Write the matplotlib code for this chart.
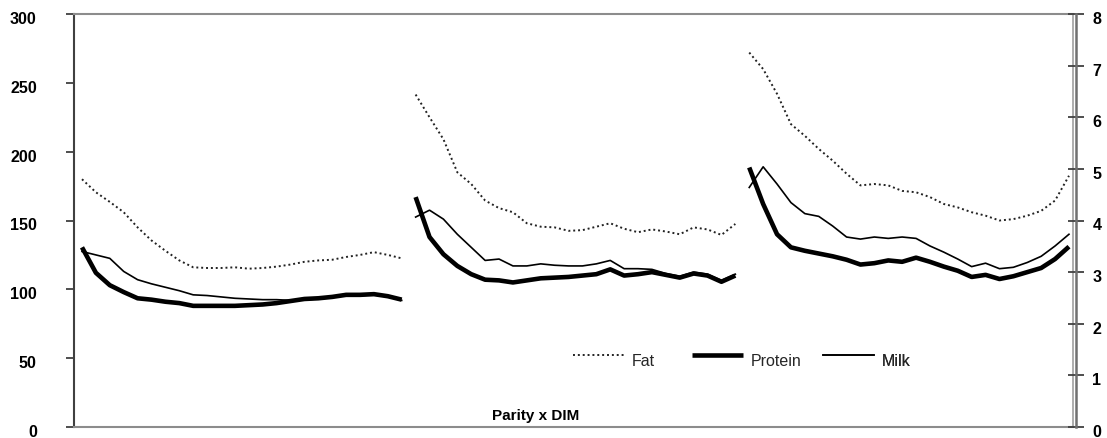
import numpy as np
import matplotlib
matplotlib.use("Agg")
import matplotlib.pyplot as plt
from matplotlib.lines import Line2D
from matplotlib.transforms import ScaledTranslation

plt.rcParams['font.family'] = ['Liberation Sans', 'DejaVu Sans']

# ---- data (left-axis units), 24 DIM classes per parity ----
n_dim = 24
fat_p1 = [180, 170.5, 163.5, 156, 145, 135.5, 128, 121, 116, 115.5, 115.5, 116,
          115, 115.5, 116.5, 118, 120, 121, 121.5, 123.5, 125, 127, 125, 122.5]
protein_p1 = [130.5, 112, 103, 98, 93.5, 92.5, 91, 90, 88, 88, 88, 88,
              88.5, 89, 90, 91.5, 93, 93.5, 94.5, 96, 96, 96.5, 95, 92.5]
milk_p1 = [127.5, 125, 122.5, 113, 107, 104, 101.5, 99, 96, 95.5, 94.5, 93.5,
           93, 92.5, 92.5, 92, 92.5, 93, 94, 95.5, 95.5, 96, 94.5, 92]

fat_p2 = [241.5, 225, 209, 185, 176.5, 164.5, 159, 156, 148, 145.5, 145, 142.5,
          143, 145.5, 148, 144, 141.5, 143.5, 142, 140, 145, 143.5, 139.5, 147.5]
protein_p2 = [167, 138, 125.5, 117, 111, 107, 106.5, 105, 106.5, 108, 108.5, 109,
              110, 111, 114.5, 110, 111, 112.5, 110.5, 108.5, 111.5, 110, 105.5, 110]
milk_p2 = [152.5, 157.5, 151, 140, 130.5, 121, 122, 117, 117, 118.5, 117.5, 117,
           117, 118.5, 121, 115, 115, 114.5, 111.5, 109.5, 112.5, 111, 106.5, 111]

fat_p3 = [272, 260, 242, 220, 211.5, 202, 193.5, 184, 175.5, 176.5, 175.5, 171.5,
          170.5, 167, 162, 159.5, 156, 153.5, 150, 151, 153.5, 157, 164.5, 182.5]
protein_p3 = [188.5, 162, 140, 130.5, 128, 126, 124, 121.5, 118, 119, 121, 120,
              123, 120, 116.5, 113.5, 109, 110.5, 107.5, 109.5, 112.5, 115.5, 122, 131]
milk_p3 = [174, 189, 176.5, 163, 155, 153, 146, 138, 136.5, 138, 137, 138,
           137, 131.5, 127, 122, 116.5, 119, 115, 116, 119.5, 124, 131.5, 140]

left_ticks = [0, 50, 100, 150, 200, 250, 300]
right_ticks = [0, 1, 2, 3, 4, 5, 6, 7, 8]
series_names = ["Fat", "Protein", "Milk"]

# ---- figure ----
W, H = 1107, 439
fig = plt.figure(figsize=(W / 100, H / 100), dpi=100)
ax = fig.add_axes([74 / W, 1 - 428 / H, (1073 - 74) / W, (428 - 15) / H])

fat_style = dict(color='#222222', lw=1.4, linestyle=(0, (1, 1.5)))
prot_style = dict(color='black', lw=3.3, solid_capstyle='butt', solid_joinstyle='round')
milk_style = dict(color='black', lw=1.2, solid_joinstyle='round')

parities = [(fat_p1, protein_p1, milk_p1), (fat_p2, protein_p2, milk_p2), (fat_p3, protein_p3, milk_p3)]
for k, (f, p, m) in enumerate(parities):
    x = np.arange(n_dim) + k * n_dim
    ax.plot(x, f, **fat_style, zorder=2)
    ax.plot(x, m, **milk_style, zorder=3)
    ax.plot(x, p, **prot_style, zorder=4)

ax.set_xlim(-0.5755, 71.29)
ax.set_ylim(0, 300)
ax.set_xticks([])
ax.set_yticks(left_ticks)
ax.set_yticklabels([str(t) for t in left_ticks])

for side in ['top', 'bottom']:
    ax.spines[side].set_color('#8c8c8c')
    ax.spines[side].set_linewidth(1.5)
ax.spines['left'].set_color('#404040')
ax.spines['left'].set_linewidth(1.5)
ax.spines['right'].set_color('#a0a0a0')
ax.spines['right'].set_linewidth(1.2)

ax.tick_params(axis='y', direction='out', length=5.8, width=1.3, color='#404040',
               pad=21, labelsize=11.5)
for lab in ax.get_yticklabels():
    lab.set_fontweight('bold')
    lab.set_transform(lab.get_transform() + ScaledTranslation(0, -3 / 100, fig.dpi_scale_trans))

ax2 = ax.twinx()
ax2.set_ylim(0, 8)
ax2.set_yticks(right_ticks)
ax2.set_yticklabels([str(t) for t in right_ticks])
for side in ['top', 'bottom', 'left']:
    ax2.spines[side].set_visible(False)
ax2.spines['right'].set_position(('outward', 2.5))
ax2.spines['right'].set_color('#707070')
ax2.spines['right'].set_linewidth(1.8)
ax2.tick_params(axis='y', direction='inout', length=11, width=1.3, color='#404040',
                pad=6, labelsize=11.5)
for lab in ax2.get_yticklabels():
    lab.set_fontweight('bold')
    lab.set_transform(lab.get_transform() + ScaledTranslation(0, -3 / 100, fig.dpi_scale_trans))

# ---- legend (one entry each, positioned like the original) ----
handles = [Line2D([], [], **fat_style), Line2D([], [], **prot_style), Line2D([], [], **milk_style)]
legend_x = [0.4995, 0.6186, 0.7497]
for h, name, lx in zip(handles, series_names, legend_x):
    leg = ax.legend(handles=[h], labels=[name], loc='center left', bbox_to_anchor=(lx, 0.172),
                    frameon=False, fontsize=11.5, handlelength=3.2, handletextpad=0.5,
                    borderpad=0, borderaxespad=0)
    for t in leg.get_texts():
        t.set_color('#262626')
        t.set_transform(t.get_transform() + ScaledTranslation(0, -5 / 100, fig.dpi_scale_trans))
    ax.add_artist(leg)

ax.text(0.4625, 0.028, "Parity x DIM", transform=ax.transAxes, ha='center', va='center',
        fontsize=11, fontweight='bold', color='black')

fig.savefig("out.png", dpi=100)
